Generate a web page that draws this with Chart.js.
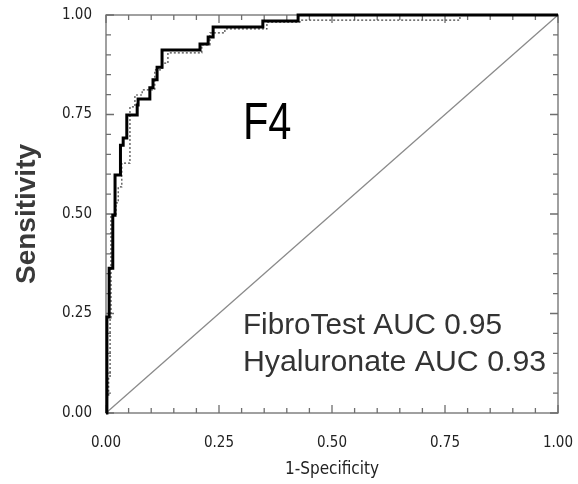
<!DOCTYPE html>
<html>
<head>
<meta charset="utf-8">
<script src="https://cdn.jsdelivr.net/npm/chart.js@4.4.1/dist/chart.umd.min.js"></script>
<style>
  html, body { margin: 0; padding: 0; background: #fff; }
  #wrap { width: 578px; height: 484px; }
</style>
</head>
<body>
<div id="wrap"><canvas id="roc" width="578" height="484"></canvas></div>
<script>
// ROC curves (1-specificity, sensitivity)
const fibroFpr = [0, 0.002, 0.007, 0.015, 0.020, 0.032, 0.038, 0.046, 0.069, 0.071, 0.097, 0.104, 0.113, 0.124, 0.208, 0.226, 0.237, 0.347, 0.425, 1]
const fibroTpr = [0, 0.241, 0.364, 0.497, 0.598, 0.673, 0.691, 0.749, 0.774, 0.789, 0.817, 0.837, 0.869, 0.912, 0.927, 0.945, 0.970, 0.985, 1, 1]

const hyalFpr = [0, 0.002, 0.006, 0.009, 0.011, 0.022, 0.027, 0.035, 0.053, 0.064, 0.080, 0.108, 0.124, 0.137, 0.212, 0.230, 0.263, 0.356, 0.429, 0.783, 1]
const hyalTpr = [0, 0.040, 0.090, 0.239, 0.497, 0.528, 0.568, 0.628, 0.769, 0.799, 0.812, 0.862, 0.879, 0.905, 0.925, 0.955, 0.965, 0.982, 0.987, 1, 1]

const diagX = [0, 1]
const diagY = [0, 1]

const majorTicks = [0, 0.25, 0.5, 0.75, 1]
const minorTicks = [0.05, 0.1, 0.15, 0.2, 0.3, 0.35, 0.4, 0.45, 0.55, 0.6, 0.65, 0.7, 0.8, 0.85, 0.9, 0.95]

const notes = [
    { text: 'F4', x: 0.303, y: 0.688, size: 52, squeeze: 0.8, color: '#000' },
    { text: 'FibroTest AUC 0.95', x: 0.303, y: 0.199, size: 30, squeeze: 0.99, color: '#333' },
    { text: 'Hyaluronate AUC 0.93', x: 0.303, y: 0.106, size: 30, squeeze: 1.01, color: '#333' }
]

const toPoints = (xs, ys) => xs.map((x, i) => ({ x: x, y: ys[i] }))

const tickFont = { family: "'Liberation Sans Narrow', 'DejaVu Sans Condensed', sans-serif", size: 15 }

// box + inward ticks on all four sides
const framePlugin = {
    id: 'frame',
    beforeDatasetsDraw(chart) {
        const ctx = chart.ctx
        const a = chart.chartArea
        const sx = chart.scales.x
        const sy = chart.scales.y
        ctx.save()
        ctx.strokeStyle = '#6e6e6e'
        ctx.lineWidth = 1.3
        ctx.strokeRect(a.left, a.top, a.right - a.left, a.bottom - a.top)
        const draw = (vals, len) => {
            vals.forEach(v => {
                const px = sx.getPixelForValue(v)
                const py = sy.getPixelForValue(v)
                ctx.beginPath()
                ctx.moveTo(px, a.bottom); ctx.lineTo(px, a.bottom - len)
                ctx.moveTo(px, a.top); ctx.lineTo(px, a.top + len)
                ctx.moveTo(a.left, py); ctx.lineTo(a.left + len, py)
                ctx.moveTo(a.right, py); ctx.lineTo(a.right - len, py)
                ctx.stroke()
            })
        }
        draw(majorTicks, 8)
        draw(minorTicks, 5)
        ctx.restore()
    },
    afterDraw(chart) {
        const ctx = chart.ctx
        const sx = chart.scales.x
        const sy = chart.scales.y
        notes.forEach(n => {
            ctx.save()
            ctx.textBaseline = 'alphabetic'
            ctx.textAlign = 'left'
            ctx.font = n.size + "px 'Liberation Sans', Arial, sans-serif"
            ctx.fillStyle = n.color
            ctx.translate(sx.getPixelForValue(n.x), sy.getPixelForValue(n.y))
            ctx.scale(n.squeeze, 1)
            ctx.fillText(n.text, 0, 0)
            ctx.restore()
        })
    }
}

new Chart(document.querySelector('#roc').getContext('2d'), {
    type: 'line',
    data: {
        datasets: [
            {
                label: 'FibroTest',
                data: toPoints(fibroFpr, fibroTpr),
                stepped: 'before',
                borderColor: '#000',
                borderWidth: 3,
                pointRadius: 0,
                clip: 6
            },
            {
                label: 'Hyaluronate',
                data: toPoints(hyalFpr, hyalTpr),
                stepped: 'before',
                borderColor: '#444',
                borderWidth: 1.2,
                borderDash: [2, 2],
                pointRadius: 0,
                clip: 6
            },
            {
                label: 'Chance',
                data: toPoints(diagX, diagY),
                borderColor: '#8a8a8a',
                borderWidth: 1.3,
                pointRadius: 0,
                clip: 6
            }
        ]
    },
    options: {
        responsive: false,
        animation: false,
        layout: { padding: { top: 15, right: 20, left: 0, bottom: 0 } },
        plugins: { legend: { display: false }, tooltip: { enabled: false } },
        scales: {
            x: {
                type: 'linear',
                min: 0,
                max: 1,
                afterBuildTicks: s => { s.ticks = majorTicks.map(v => ({ value: v })) },
                afterFit: s => { s.height = 71; s.paddingLeft = 0; s.paddingRight = 0 },
                grid: { display: false },
                border: { display: false },
                ticks: {
                    padding: 13,
                    color: '#222',
                    font: tickFont,
                    maxRotation: 0,
                    callback: v => Number(v).toFixed(2)
                },
                title: {
                    display: true,
                    text: '1-Specificity',
                    color: '#222',
                    font: { family: tickFont.family, size: 17 },
                    padding: { top: 0, bottom: 4 }
                }
            },
            y: {
                type: 'linear',
                min: 0,
                max: 1,
                afterBuildTicks: s => { s.ticks = majorTicks.map(v => ({ value: v })) },
                afterFit: s => { s.width = 106; s.paddingTop = 0; s.paddingBottom = 0 },
                grid: { display: false },
                border: { display: false },
                ticks: {
                    padding: 6,
                    color: '#222',
                    font: tickFont,
                    callback: v => Number(v).toFixed(2)
                },
                title: {
                    display: true,
                    text: 'Sensitivity',
                    color: '#3a3a3a',
                    font: { family: "'Liberation Sans', Arial, sans-serif", size: 28, weight: 'bold' },
                    padding: { top: 10, bottom: 0 }
                }
            }
        }
    },
    plugins: [framePlugin]
})
</script>
</body>
</html>
